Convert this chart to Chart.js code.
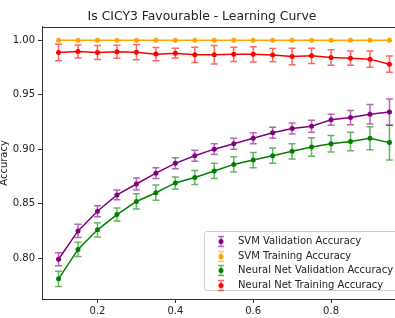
<!DOCTYPE html>
<html>
<head>
<meta charset="utf-8">
<script src="https://cdn.jsdelivr.net/npm/chart.js@4.4.1/dist/chart.umd.min.js"></script>
<style>
  html, body { margin: 0; padding: 0; background: #fff; overflow: hidden; }
  body { width: 395px; height: 318px; position: relative; font-family: "DejaVu Sans", sans-serif; }
  #wrap { position: absolute; left: -2px; top: 0; width: 452px; height: 318px; }
  #legend {
    position: absolute; left: 204px; top: 231px; width: 200px; height: 60px;
    border: 1px solid #cfcfcf; border-radius: 3px; background: rgba(255,255,255,0.85);
    font-size: 10px; color: #222; box-sizing: border-box; padding-top: 2px;
  }
  .row { position: relative; height: 14.6px; line-height: 14.6px; white-space: nowrap; }
  .row svg { position: absolute; left: 10px; top: 0; }
  .row span { position: absolute; left: 33px; top: 0; }
</style>
</head>
<body>
<div id="wrap"><canvas id="chart" width="452" height="318"></canvas></div>
<div id="legend"></div>
<script>
// ── Data ─────────────────────────────────────────────────────────────────
const trainFractions = [0.10, 0.15, 0.20, 0.25, 0.30, 0.35, 0.40, 0.45, 0.50,
                        0.55, 0.60, 0.65, 0.70, 0.75, 0.80, 0.85, 0.90, 0.95];

const svmValAcc   = [0.799, 0.825, 0.843, 0.858, 0.868, 0.878, 0.887, 0.894, 0.900,
                     0.905, 0.910, 0.915, 0.919, 0.921, 0.927, 0.929, 0.932, 0.934];
const svmValErr   = [0.006, 0.006, 0.005, 0.0045, 0.0055, 0.005, 0.005, 0.005, 0.005,
                     0.005, 0.005, 0.005, 0.005, 0.0055, 0.005, 0.0065, 0.009, 0.012];

const svmTrainAcc = [1.000, 1.000, 1.000, 1.000, 1.000, 1.000, 1.000, 1.000, 1.000,
                     1.000, 1.000, 1.000, 1.000, 1.000, 1.000, 1.000, 1.000, 1.000];
const svmTrainErr = [0, 0, 0, 0, 0, 0, 0, 0, 0, 0, 0, 0, 0, 0, 0, 0, 0, 0];

const nnValAcc    = [0.781, 0.808, 0.826, 0.840, 0.852, 0.860, 0.869, 0.874, 0.880,
                     0.886, 0.890, 0.894, 0.898, 0.902, 0.905, 0.907, 0.910, 0.906];
const nnValErr    = [0.007, 0.0065, 0.0065, 0.006, 0.007, 0.007, 0.0055, 0.0065, 0.007,
                     0.007, 0.007, 0.007, 0.007, 0.0085, 0.0075, 0.0085, 0.0105, 0.016];

const nnTrainAcc  = [0.9887, 0.9896, 0.9887, 0.9893, 0.9890, 0.9872, 0.9881, 0.9866, 0.9866,
                     0.9870, 0.9870, 0.9863, 0.9850, 0.9856, 0.9841, 0.9835, 0.9826, 0.9780];
const nnTrainErr  = [0.0075, 0.006, 0.0065, 0.006, 0.007, 0.006, 0.0045, 0.007, 0.0085,
                     0.0065, 0.007, 0.006, 0.0075, 0.007, 0.007, 0.0065, 0.0075, 0.0075];

const seriesLabels = ['SVM Validation Accuracy', 'SVM Training Accuracy',
                      'Neural Net Validation Accuracy', 'Neural Net Training Accuracy'];
const seriesColors = ['#800080', '#ffa500', '#008000', '#ff0000'];
const seriesValues = [svmValAcc, svmTrainAcc, nnValAcc, nnTrainAcc];
const seriesErrors = [svmValErr, svmTrainErr, nnValErr, nnTrainErr];

const chartTitle = 'Is CICY3 Favourable - Learning Curve';
const yAxisTitle = 'Accuracy';

const FONT = '"DejaVu Sans", sans-serif';
const AXIS = '#333';

function withAlpha(hex, a) {
    const n = parseInt(hex.slice(1), 16);
    return `rgba(${(n >> 16) & 255},${(n >> 8) & 255},${n & 255},${a})`;
}

// ── Error bars + top spine ───────────────────────────────────────────────
const errorBars = {
    id: 'errorBars',
    beforeDatasetDraw(chart, args) {
        const ds = chart.data.datasets[args.index];
        const xs = chart.scales.x, ys = chart.scales.y;
        const ctx = chart.ctx;
        ctx.save();
        ctx.strokeStyle = withAlpha(ds.borderColor, 0.6);
        ctx.lineWidth = 1.5;
        ds.data.forEach((p, i) => {
            const err = ds.errors[i];
            if (!err) return;
            const x = xs.getPixelForValue(p.x);
            const y0 = ys.getPixelForValue(p.y - err);
            const y1 = ys.getPixelForValue(p.y + err);
            ctx.beginPath();
            ctx.moveTo(x, y0); ctx.lineTo(x, y1);
            ctx.moveTo(x - 3.5, y0); ctx.lineTo(x + 3.5, y0);
            ctx.moveTo(x - 3.5, y1); ctx.lineTo(x + 3.5, y1);
            ctx.stroke();
        });
        ctx.restore();
    },
    afterDraw(chart) {
        const { ctx, chartArea: a } = chart;
        ctx.save();
        ctx.strokeStyle = AXIS;
        ctx.lineWidth = 1;
        ctx.beginPath();
        ctx.moveTo(a.left, Math.round(a.top) + 0.5);
        ctx.lineTo(a.right, Math.round(a.top) + 0.5);
        ctx.lineTo(a.right, a.bottom);
        ctx.stroke();
        ctx.restore();
    }
};

// ── Chart ────────────────────────────────────────────────────────────────
const datasets = seriesLabels.map((label, k) => ({
    label: label,
    data: trainFractions.map((x, i) => ({ x: x, y: seriesValues[k][i] })),
    errors: seriesErrors[k],
    borderColor: seriesColors[k],
    backgroundColor: seriesColors[k],
    borderWidth: 1.5,
    pointRadius: 2.5,
    pointBorderWidth: 0,
    tension: 0,
    fill: false
}));

// canvas is wider than the window so the title centres over the axes and the
// right spine falls outside the crop, like the reference
new Chart(document.getElementById('chart'), {
    type: 'line',
    data: { datasets: datasets },
    options: {
        responsive: false,
        animation: false,
        devicePixelRatio: 1,
        layout: { padding: { left: 0, right: 44, top: 0, bottom: 0 } },
        plugins: {
            legend: { display: false },
            tooltip: { enabled: false },
            title: {
                display: true,
                text: chartTitle,
                color: '#222',
                font: { family: FONT, size: 12.4, weight: 'normal' },
                padding: { top: 9, bottom: 3 }
            }
        },
        scales: {
            x: {
                type: 'linear',
                min: 0.0575,
                max: 0.9925,
                afterFit: s => { s.height = 19; },
                ticks: {
                    stepSize: 0.2,
                    includeBounds: false,
                    maxRotation: 0,
                    padding: 2,
                    color: '#222',
                    font: { family: FONT, size: 10 },
                    callback: v => v.toFixed(1)
                },
                grid: { drawOnChartArea: false, drawTicks: true, tickLength: 4, tickColor: AXIS },
                border: { display: true, color: AXIS, width: 1 }
            },
            y: {
                min: 0.7625,
                max: 1.0122,
                afterFit: s => { s.width = 44; },
                ticks: {
                    stepSize: 0.05,
                    includeBounds: false,
                    padding: 3,
                    color: '#222',
                    font: { family: FONT, size: 10 },
                    callback: v => v.toFixed(2)
                },
                title: {
                    display: true,
                    text: yAxisTitle,
                    color: '#222',
                    padding: 0,
                    font: { family: FONT, size: 10 }
                },
                grid: { drawOnChartArea: false, drawTicks: true, tickLength: 4, tickColor: AXIS },
                border: { display: true, color: AXIS, width: 1 }
            }
        }
    },
    plugins: [errorBars]
});

// ── Legend (inside the axes, lower right) ────────────────────────────────
const legendEl = document.getElementById('legend');
seriesLabels.forEach((label, k) => {
    const c = seriesColors[k], e = withAlpha(c, 0.6);
    legendEl.insertAdjacentHTML('beforeend', `
      <div class="row">
        <svg width="12" height="15" viewBox="0 0 12 15">
          <path d="M6 2.5V12.5M3 2.5H9M3 12.5H9" stroke="${e}" stroke-width="1.5" fill="none"/>
          <circle cx="6" cy="7.5" r="2.5" fill="${c}"/>
        </svg>
        <span>${label}</span>
      </div>`);
});
</script>
</body>
</html>
